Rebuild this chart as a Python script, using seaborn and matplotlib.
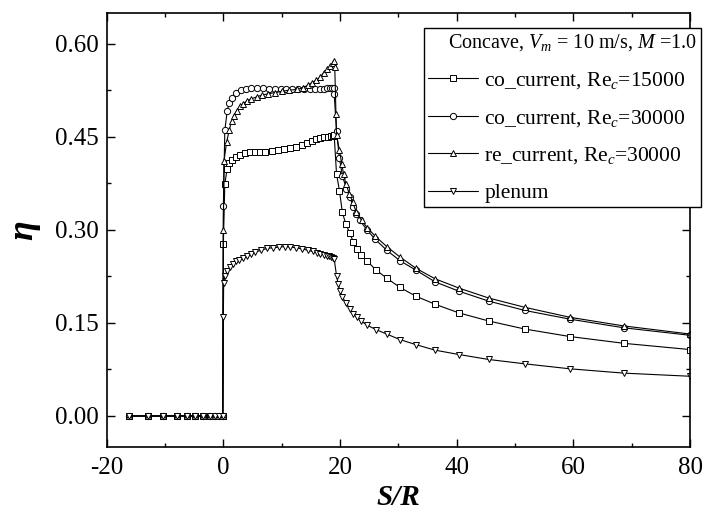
import matplotlib
matplotlib.use("Agg")
import matplotlib.pyplot as plt
from matplotlib.ticker import MultipleLocator
import numpy as np
import pandas as pd
import seaborn as sns

# ---------------- data ----------------
x_up = [-16.2, -12.9, -10.3, -8.0, -6.2, -4.9, -3.5, -2.3, -1.5, -0.7, -0.1]
eta_up = [0.0, 0.0, 0.0, 0.0, 0.0, 0.0, 0.0, 0.0, 0.0, 0.0, 0.0]

# co_current, Re_c = 15000 (squares)
x_s = [0.0, 0.25, 0.65, 1.0, 1.4, 2.1, 2.9, 3.7, 4.5, 5.4, 6.3, 7.2, 8.3, 9.3,
       10.4, 11.4, 12.4, 13.4, 14.4, 15.2, 15.9, 16.6, 17.3, 17.9, 18.4, 18.8, 19.0,
       19.4, 19.9, 20.4, 21.0, 21.7, 22.3, 22.9, 23.6, 24.7, 26.2,
       28.0, 30.3, 33.0, 36.3, 40.4, 45.5, 51.7, 59.4, 68.7, 80.0]
eta_s = [0.277, 0.374, 0.398, 0.408, 0.413, 0.418, 0.421, 0.423, 0.425, 0.425, 0.426, 0.426, 0.427, 0.428,
         0.430, 0.432, 0.434, 0.437, 0.440, 0.443, 0.446, 0.448, 0.449, 0.450, 0.451, 0.451, 0.452,
         0.390, 0.363, 0.328, 0.309, 0.294, 0.280, 0.269, 0.260, 0.249, 0.235,
         0.222, 0.207, 0.193, 0.180, 0.166, 0.153, 0.140, 0.128, 0.117, 0.107]

# co_current, Re_c = 30000 (circles)
x_c = [0.0, 0.25, 0.65, 1.0, 1.45, 2.25, 3.0, 3.9, 4.8, 5.8, 6.8, 7.8, 8.8, 9.8,
       10.8, 11.8, 12.8, 13.8, 14.8, 15.7, 16.5, 17.2, 17.8, 18.3, 18.7, 19.0,
       19.0, 19.4, 19.9, 20.4, 21.1, 21.7, 22.3, 22.8, 23.4, 24.6, 26.0,
       28.0, 30.3, 33.0, 36.3, 40.4, 45.5, 51.7, 59.4, 68.7, 80.0]
eta_c = [0.339, 0.460, 0.491, 0.505, 0.512, 0.521, 0.525, 0.527, 0.528, 0.528, 0.528, 0.527, 0.527, 0.526,
         0.526, 0.526, 0.526, 0.526, 0.527, 0.527, 0.527, 0.527, 0.528, 0.528, 0.528, 0.528,
         0.519, 0.459, 0.415, 0.387, 0.366, 0.352, 0.336, 0.325, 0.315, 0.300, 0.285,
         0.267, 0.250, 0.235, 0.216, 0.201, 0.185, 0.170, 0.156, 0.142, 0.130]

# re_current, Re_c = 30000 (up triangles)
x_t = [0.0, 0.1, 0.55, 1.0, 1.4, 1.8, 2.3, 2.8, 3.4, 4.1, 4.8, 5.7, 6.6, 7.7, 8.8,
       10.0, 11.3, 12.7, 13.7, 14.5, 15.2, 15.9, 16.6, 17.2, 17.8, 18.3, 18.8, 19.0,
       19.1, 19.3, 19.4, 19.9, 20.3, 20.6, 21.0, 21.6, 22.2, 22.8, 23.7, 24.7, 26.0,
       28.0, 30.3, 33.0, 36.3, 40.4, 45.5, 51.7, 59.4, 68.7, 80.0]
eta_t = [0.300, 0.410, 0.441, 0.460, 0.475, 0.484, 0.492, 0.499, 0.503, 0.508, 0.511, 0.514, 0.517, 0.519, 0.521,
         0.523, 0.525, 0.526, 0.529, 0.533, 0.537, 0.541, 0.546, 0.553, 0.559, 0.564, 0.569, 0.572,
         0.562, 0.487, 0.452, 0.428, 0.406, 0.390, 0.374, 0.358, 0.344, 0.328, 0.315, 0.303, 0.290,
         0.273, 0.256, 0.238, 0.221, 0.206, 0.190, 0.175, 0.159, 0.145, 0.132]

# plenum (down triangles)
x_p = [0.0, 0.05, 0.3, 0.7, 1.1, 1.6, 2.1, 2.7, 3.3, 4.0, 4.7, 5.5, 6.5, 7.5, 8.5,
       9.5, 10.5, 11.5, 12.5, 13.5, 14.5, 15.3, 16.0, 16.6, 17.2, 17.7, 18.1, 18.5, 18.8, 19.0,
       19.4, 19.7, 20.0, 20.4, 21.0, 21.7, 22.3, 22.9, 23.6, 24.7, 26.2,
       28.0, 30.3, 33.0, 36.3, 40.4, 45.5, 51.7, 59.4, 68.7, 80.0]
eta_p = [0.160, 0.215, 0.226, 0.234, 0.240, 0.245, 0.249, 0.252, 0.255, 0.258, 0.261, 0.264, 0.267, 0.270, 0.271,
         0.272, 0.273, 0.272, 0.271, 0.269, 0.267, 0.265, 0.263, 0.261, 0.260, 0.258, 0.257, 0.256, 0.255, 0.253,
         0.226, 0.212, 0.201, 0.192, 0.182, 0.173, 0.165, 0.159, 0.153, 0.146, 0.139,
         0.132, 0.123, 0.115, 0.106, 0.099, 0.091, 0.084, 0.076, 0.069, 0.064]

labels = ["co_current, Re$_c$=15000", "co_current, Re$_c$=30000",
          "re_current, Re$_c$=30000", "plenum"]
legend_title = "    Concave, $V_m$ = 10 m/s, $M$ =1.0"
x_ticks = [-20, 0, 20, 40, 60, 80]
y_ticks = [0.00, 0.15, 0.30, 0.45, 0.60]

# ---------------- style ----------------
sns.set_theme(style="ticks")
plt.rcParams.update({
    "font.family": ["Liberation Serif", "DejaVu Serif"],
    "mathtext.fontset": "custom",
    "mathtext.rm": "Liberation Serif",
    "mathtext.it": "Liberation Serif:italic",
    "mathtext.bf": "Liberation Serif:bold",
    "axes.edgecolor": "black",
    "axes.labelcolor": "black",
    "text.color": "black",
    "xtick.color": "black",
    "ytick.color": "black",
    "axes.linewidth": 1.2,
})

fig = plt.figure(figsize=(7.08, 5.21), dpi=100)
ax = fig.add_axes([0.1507, 0.142, 0.8239, 0.834])

series = [(x_s, eta_s, "s"), (x_c, eta_c, "o"), (x_t, eta_t, "^"), (x_p, eta_p, "v")]
for (xs, ys, mk), lab in zip(series, labels):
    df = pd.DataFrame({"S/R": x_up + xs, "eta": eta_up + ys})
    sns.lineplot(data=df, x="S/R", y="eta", ax=ax, estimator=None, sort=False,
                 color="black", linewidth=0.8, marker=mk, markersize=4.5,
                 markerfacecolor="white", markeredgecolor="black",
                 markeredgewidth=0.7, label=lab)

ax.set_xlim(-20, 80)
ax.set_ylim(-0.05, 0.65)
ax.set_xticks(x_ticks)
ax.set_yticks(y_ticks)
ax.set_xticklabels([f"{v:d}" for v in x_ticks])
ax.set_yticklabels([f"{v:.2f}" for v in y_ticks])
ax.xaxis.set_minor_locator(MultipleLocator(10))
ax.yaxis.set_minor_locator(MultipleLocator(0.075))
ax.tick_params(which="both", direction="in", top=True, right=True, width=1.0)
ax.tick_params(which="major", length=6)
ax.tick_params(which="minor", length=3)
ax.tick_params(axis="x", which="major", labelsize=18, pad=7)
ax.tick_params(axis="y", which="major", labelsize=18, pad=6)
for sp in ax.spines.values():
    sp.set_visible(True)
    sp.set_linewidth(1.2)

ax.set_xlabel("S/R", fontsize=21, fontweight="bold", fontstyle="italic", labelpad=4)
ax.set_ylabel("η", fontsize=26, fontweight="bold", fontstyle="italic", labelpad=10)

handles, labs = ax.get_legend_handles_labels()
leg = ax.legend(handles, labs, title=legend_title, alignment="left",
                loc="upper left", bbox_to_anchor=(424 / 708, 1 - 28 / 521),
                bbox_transform=fig.transFigure, borderaxespad=0.0,
                frameon=True, fancybox=False,
                edgecolor="black", framealpha=1, fontsize=15.5, title_fontsize=14.5,
                handlelength=2.3, handletextpad=0.3, labelspacing=0.78,
                borderpad=0.2, numpoints=1)
leg.get_frame().set_linewidth(1.0)
leg.set_zorder(10)

fig.savefig("out.png", dpi=100)
